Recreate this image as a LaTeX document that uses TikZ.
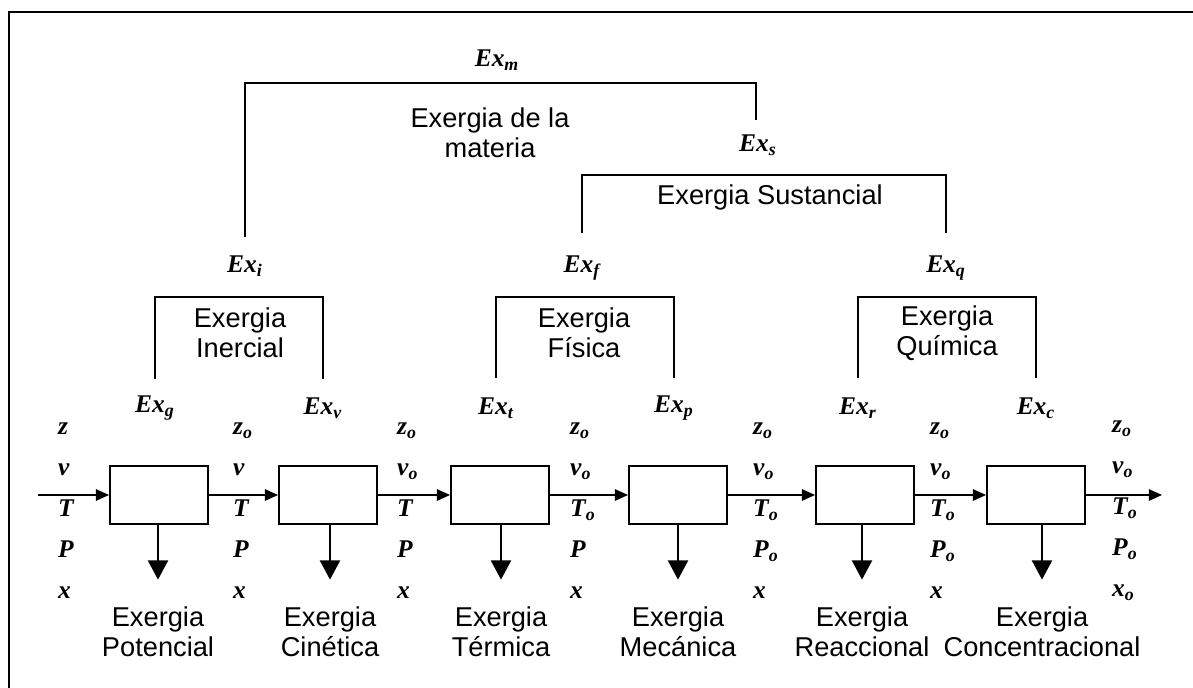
\documentclass[tikz,border=0pt]{standalone}
\usepackage{fontspec}
\setmainfont{Liberation Serif}
\setsansfont{Liberation Sans}
\usetikzlibrary{arrows.meta, positioning, calc}

\begin{document}
\begin{tikzpicture}[
    x=0.02cm, y=-0.02cm,
    unit/.style={rectangle, draw, line width=1.1pt, minimum width=1.96cm, minimum height=1.16cm},
    title/.style={font=\sffamily\fontsize{15.5}{17.2}\selectfont, align=center},
    exlab/.style={font=\fontsize{14.5}{16}\selectfont\bfseries\itshape},
    vars/.style={font=\fontsize{14.5}{23.3}\selectfont\bfseries\itshape, align=left, anchor=west},
    flow/.style={-{Triangle[length=7.5pt,width=6.5pt]}, line width=0.9pt},
    drop/.style={-{Triangle[length=11pt,width=11.5pt]}, line width=1.1pt, shorten >=12pt},
    bracket/.style={line width=1.1pt}
]
\useasboundingbox (0,0) rectangle (1193,688);

% frame
\draw[line width=1.6pt] (1193,12) -- (9,12) -- (9,688);

% upper levels
\node[exlab] (exm) at (497,60) {Ex\textsubscript{m}};
\node[title] (tmat) at (490,133) {Exergia de la\\materia};
\node[exlab] (exs) at (758,145) {Ex\textsubscript{s}};
\node[title] (tsus) at (770,197) {Exergia Sustancial};
\node[exlab] (exi) at (245,266) {Ex\textsubscript{i}};
\node[exlab] (exf) at (582,268) {Ex\textsubscript{f}};
\node[exlab] (exq) at (946,268) {Ex\textsubscript{q}};
\node[title] (tin) at (240,333) {Exergia\\Inercial};
\node[title] (tfis) at (584,333) {Exergia\\Física};
\node[title] (tqui) at (947,333) {Exergia\\Química};
\node[exlab] (exg) at (155,408) {Ex\textsubscript{g}};
\node[exlab] (exv) at (323,408) {Ex\textsubscript{v}};
\node[exlab] (ext) at (496,408) {Ex\textsubscript{t}};
\node[exlab] (exp) at (674,408) {Ex\textsubscript{p}};
\node[exlab] (exr) at (858,408) {Ex\textsubscript{r}};
\node[exlab] (exc) at (1036,408) {Ex\textsubscript{c}};

\coordinate (mtop) at (500,83);
\coordinate (stop) at (760,175);
\coordinate (itop) at (240,297);
\coordinate (ftop) at (585,297);
\coordinate (qtop) at (947,297);

\draw[bracket] ($(exi)+(0,-29)$) |- (mtop) -| ($(exs)+(-2,-25)$);
\draw[bracket] ($(exf)+(0,-35)$) |- (stop) -| ($(exq)+(0,-35)$);
\draw[bracket] ($(exg)+(0,-29)$) |- (itop) -| ($(exv)+(0,-29)$);
\draw[bracket] ($(ext)+(0,-30)$) |- (ftop) -| ($(exp)+(0,-30)$);
\draw[bracket] ($(exr)+(0,-30)$) |- (qtop) -| ($(exc)+(0,-30)$);

% process chain
\node[unit] (b1) at (159,495) {};
\node[unit] (b2) at (328,495) {};
\node[unit] (b3) at (500,495) {};
\node[unit] (b4) at (678,495) {};
\node[unit] (b5) at (865,495) {};
\node[unit] (b6) at (1036,495) {};
\coordinate (inp) at (38,495);
\coordinate (outp) at (1162,495);

\node[vars] (v0) at (52,511) {z\\v\\T\\P\\x};
\node[vars] (v1) at (227,511) {z\textsubscript{o}\\v\\T\\P\\x};
\node[vars] (v2) at (391,511) {z\textsubscript{o}\\v\textsubscript{o}\\T\\P\\x};
\node[vars] (v3) at (564,511) {z\textsubscript{o}\\v\textsubscript{o}\\T\textsubscript{o}\\P\\x};
\node[vars] (v4) at (747,511) {z\textsubscript{o}\\v\textsubscript{o}\\T\textsubscript{o}\\P\textsubscript{o}\\x};
\node[vars] (v5) at (924,511) {z\textsubscript{o}\\v\textsubscript{o}\\T\textsubscript{o}\\P\textsubscript{o}\\x};
\node[vars] (v6) at (1106,511) {z\textsubscript{o}\\v\textsubscript{o}\\T\textsubscript{o}\\P\textsubscript{o}\\x\textsubscript{o}};

\node[title] (pot) at (158,632) {Exergia\\Potencial};
\node[title] (cin) at (330,632) {Exergia\\Cinética};
\node[title] (ter) at (501,632) {Exergia\\Térmica};
\node[title] (mec) at (678,632) {Exergia\\Mecánica};
\node[title] (rea) at (862,632) {Exergia\\Reaccional};
\node[title] (con) at (1042,632) {Exergia\\Concentracional};

\draw[flow] (inp) -- (b1);
\draw[flow] (b1) -- (b2);
\draw[flow] (b2) -- (b3);
\draw[flow] (b3) -- (b4);
\draw[flow] (b4) -- (b5);
\draw[flow] (b5) -- (b6);
\draw[flow] (b6) -- (outp);

\draw[drop] (pot.north |- b1.south) -- (pot.north);
\draw[drop] (cin.north |- b2.south) -- (cin.north);
\draw[drop] (ter.north |- b3.south) -- (ter.north);
\draw[drop] (mec.north |- b4.south) -- (mec.north);
\draw[drop] (rea.north |- b5.south) -- (rea.north);
\draw[drop] (con.north |- b6.south) -- (con.north);

\end{tikzpicture}
\end{document}
